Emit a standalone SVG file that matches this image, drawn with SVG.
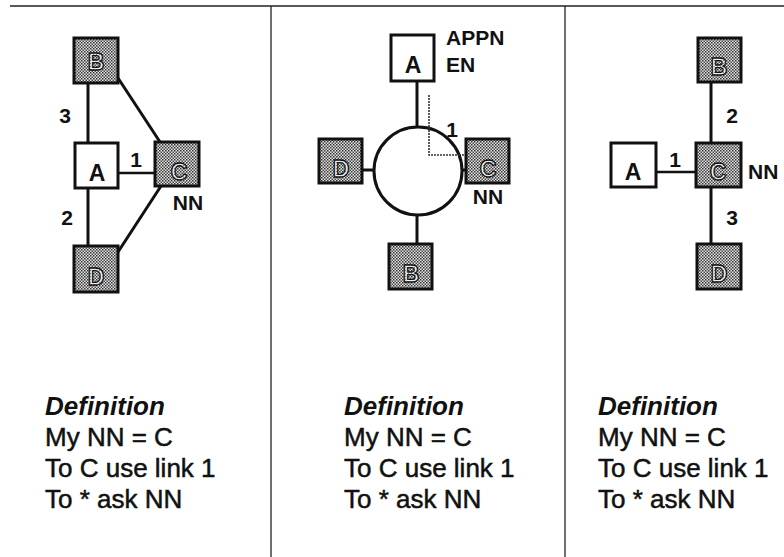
<svg xmlns="http://www.w3.org/2000/svg" width="784" height="557" viewBox="0 0 784 557">
<defs>
<pattern id="stip" width="3" height="3" patternUnits="userSpaceOnUse">
<rect width="3" height="3" fill="#e2e2e2"/>
<rect x="0" y="0" width="1.5" height="1.5" fill="#333"/>
<rect x="1.5" y="1.5" width="1.5" height="1.5" fill="#4a4a4a"/>
</pattern>
<pattern id="lite" width="3" height="3" patternUnits="userSpaceOnUse">
<rect width="3" height="3" fill="#eee"/>
<rect x="0" y="0" width="1" height="1" fill="#888"/>
</pattern>
</defs>
<style>
.frame{stroke:#222;stroke-width:1.3;fill:none}
.box{stroke:#111;stroke-width:3;fill:#fff}
.sbox{stroke:#111;stroke-width:3;fill:url(#stip)}
.ln{stroke:#111;stroke-width:3;fill:none}
.ln2{stroke:#111;stroke-width:2.4;fill:none}
.lt{font-family:"Liberation Sans",Arial,sans-serif;font-weight:bold;font-size:23px;text-anchor:middle;fill:#111}
.slt{font-family:"Liberation Sans",Arial,sans-serif;font-weight:bold;font-size:23px;text-anchor:middle;fill:url(#lite);stroke:#111;stroke-width:1.3}
.lab{font-family:"Liberation Sans",Arial,sans-serif;font-weight:bold;font-size:21px;fill:#111}
.def{font-family:"Liberation Sans",Arial,sans-serif;font-weight:bold;font-style:italic;font-size:26px;fill:#111}
.txt{font-family:"Liberation Sans",Arial,sans-serif;font-size:26px;fill:#111;stroke:#111;stroke-width:0.5}
</style>
<g id="frame">
<line class="frame" x1="10" y1="6" x2="784" y2="6"/>
<line class="frame" x1="271" y1="6" x2="271" y2="557"/>
<line class="frame" x1="565" y1="6" x2="565" y2="557"/>
</g>
<g id="connectors">
<line class="ln" x1="88" y1="83" x2="88" y2="143"/>
<line class="ln" x1="88" y1="188" x2="88" y2="246"/>
<line class="ln2" x1="118" y1="173" x2="155" y2="173"/>
<line class="ln" x1="118" y1="78" x2="160" y2="142"/>
<line class="ln" x1="161" y1="186" x2="118" y2="252"/>
<line class="ln" x1="417" y1="80" x2="417" y2="127"/>
<line class="ln" x1="362" y1="170" x2="374" y2="170"/>
<line class="ln" x1="462" y1="170" x2="466" y2="170"/>
<line class="ln" x1="417" y1="215" x2="417" y2="244"/>
<path d="M429 95 L429 155 L482 155" fill="none" stroke="#333" stroke-width="1.6" stroke-dasharray="2 1"/>
<line class="ln" x1="711" y1="82" x2="711" y2="143"/>
<line class="ln" x1="711" y1="187" x2="711" y2="244"/>
<line class="ln2" x1="656" y1="172" x2="696" y2="172"/>
</g>
<g id="ring">
<circle cx="418" cy="171" r="44" fill="#fff" stroke="#111" stroke-width="3"/>
<path d="M429 127 L429 155 L460 155" fill="none" stroke="#333" stroke-width="1.6" stroke-dasharray="2 1"/>
</g>
<g id="p1-B"><rect class="sbox" x="74" y="38" width="44" height="45"/><text class="slt" x="96" y="70">B</text></g>
<g id="p1-A"><rect class="box" x="75" y="143" width="43" height="45"/><text class="lt" x="97" y="181">A</text></g>
<g id="p1-C"><rect class="sbox" x="155" y="142" width="44" height="44"/><text class="slt" x="179" y="180">C</text></g>
<g id="p1-D"><rect class="sbox" x="74" y="246" width="44" height="46"/><text class="slt" x="96" y="285">D</text></g>
<g id="p1-labels">
<text class="lab" x="65" y="123" text-anchor="middle">3</text>
<text class="lab" x="67" y="225" text-anchor="middle">2</text>
<text class="lab" x="136" y="167" text-anchor="middle">1</text>
<text class="lab" x="188" y="210" text-anchor="middle">NN</text>
</g>
<g id="p2-A"><rect class="box" x="391" y="35" width="43" height="46"/><text class="lt" x="413" y="73">A</text></g>
<g id="p2-D"><rect class="sbox" x="319" y="139" width="43" height="44"/><text class="slt" x="341" y="177">D</text></g>
<g id="p2-C"><rect class="sbox" x="466" y="139" width="43" height="44"/><text class="slt" x="488" y="177">C</text></g>
<g id="p2-B"><rect class="sbox" x="389" y="244" width="43" height="45"/><text class="slt" x="411" y="282">B</text></g>
<g id="p2-labels">
<text class="lab" x="446" y="45">APPN</text>
<text class="lab" x="446" y="72">EN</text>
<text class="lab" x="452" y="137" text-anchor="middle">1</text>
<text class="lab" x="488" y="204" text-anchor="middle">NN</text>
</g>
<g id="p3-B"><rect class="sbox" x="698" y="38" width="43" height="44"/><text class="slt" x="719" y="75">B</text></g>
<g id="p3-A"><rect class="box" x="611" y="143" width="45" height="44"/><text class="lt" x="633" y="180">A</text></g>
<g id="p3-C"><rect class="sbox" x="696" y="143" width="45" height="44"/><text class="slt" x="718" y="180">C</text></g>
<g id="p3-D"><rect class="sbox" x="697" y="244" width="44" height="45"/><text class="slt" x="719" y="282">D</text></g>
<g id="p3-labels">
<text class="lab" x="732" y="123" text-anchor="middle">2</text>
<text class="lab" x="675" y="167" text-anchor="middle">1</text>
<text class="lab" x="732" y="225" text-anchor="middle">3</text>
<text class="lab" x="748" y="179">NN</text>
</g>
<g id="p1-text">
<text class="def" x="45" y="415">Definition</text>
<text class="txt" x="45" y="446">My NN = C</text>
<text class="txt" x="45" y="477">To C use link 1</text>
<text class="txt" x="45" y="508">To * ask NN</text>
</g>
<g id="p2-text">
<text class="def" x="344" y="415">Definition</text>
<text class="txt" x="344" y="446">My NN = C</text>
<text class="txt" x="344" y="477">To C use link 1</text>
<text class="txt" x="344" y="508">To * ask NN</text>
</g>
<g id="p3-text">
<text class="def" x="598" y="415">Definition</text>
<text class="txt" x="598" y="446">My NN = C</text>
<text class="txt" x="598" y="477">To C use link 1</text>
<text class="txt" x="598" y="508">To * ask NN</text>
</g>
</svg>
